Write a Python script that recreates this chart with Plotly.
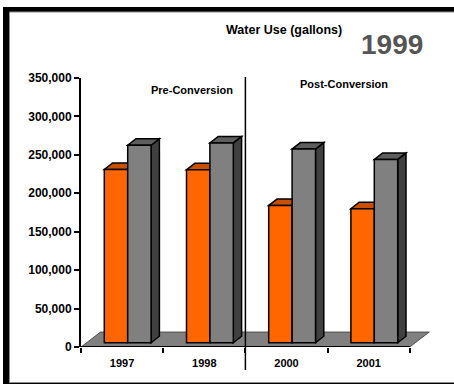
import plotly.graph_objects as go

# --- data -------------------------------------------------------------
years = ["1997", "1998", "2000", "2001"]
orange_vals = [225500, 225000, 178500, 174500]
gray_vals = [257000, 260000, 252000, 238500]
y_ticks = [0, 50000, 100000, 150000, 200000, 250000, 300000, 350000]

# --- geometry (pixels) -------------------------------------------------
W, H = 454, 384
ML, MR, MT, MB = 81, 23, 78, 37
PW, PH = W - ML - MR, H - MT - MB
CAT = 82.2                 # pixels per category
XMIN = -0.5
XMAX = XMIN + PW / CAT
YMAX = 350000
UX = 1.0 / CAT             # data units per pixel (x)
UY = YMAX / PH             # data units per pixel (y)

FLOOR_DX, FLOOR_DY = 19.5, 15.0   # floor depth
BAR_DX, BAR_DY = 8.3, 6.5         # column depth
FX = (FLOOR_DX - BAR_DX) / 2      # columns sit mid-floor
FY = (FLOOR_DY - BAR_DY) / 2
BW = 23.4                          # column width

ORANGE, ORANGE_TOP = "#FF6600", "#C85000"
GRAY, GRAY_TOP, GRAY_SIDE = "#808080", "#5E5E5E", "#404040"
FONT = "Arial, Liberation Sans, sans-serif"


def px(xp):
    return (xp - ML) / PW


def py(yp):
    return (H - MB - yp) / PH


def poly(pts):
    return "M " + " L ".join(f"{x},{y}" for x, y in pts) + " Z"


base = FY * UY
ddx, ddy = BAR_DX * UX, BAR_DY * UY
shapes = []

# card frame: dark band on the upper-left, white card with grey edge
shapes.append(dict(type="rect", xref="paper", yref="paper",
                   x0=px(3), x1=px(470), y0=py(7), y1=py(400),
                   fillcolor="black", line=dict(width=0), layer="below"))
shapes.append(dict(type="rect", xref="paper", yref="paper",
                   x0=px(9.5), x1=px(470), y0=py(12), y1=py(382.5),
                   fillcolor="white", line=dict(color="#8C8C8C", width=1),
                   layer="below"))

# floor
fdx, fdy = FLOOR_DX * UX, FLOOR_DY * UY
shapes.append(dict(type="path", xref="x", yref="y", layer="below",
                   path=poly([(XMIN, 0), (3.5, 0), (3.5 + fdx, fdy), (XMIN + fdx, fdy)]),
                   fillcolor="#808080", line=dict(color="#3A3A3A", width=0.8)))

# column tops and sides
for i, (vo, vg) in enumerate(zip(orange_vals, gray_vals)):
    xl_o = i + (FX - BW) * UX
    xr_o = i + FX * UX
    xl_g = xr_o
    xr_g = xr_o + BW * UX
    to = base + vo
    tg = base + vg
    shapes.append(dict(type="path", xref="x", yref="y", layer="below",
                       path=poly([(xl_o, to), (xr_o, to), (xr_o + ddx, to + ddy), (xl_o + ddx, to + ddy)]),
                       fillcolor=ORANGE_TOP, line=dict(color="black", width=1.5)))
    shapes.append(dict(type="path", xref="x", yref="y", layer="below",
                       path=poly([(xr_g, base), (xr_g, tg), (xr_g + ddx, tg + ddy), (xr_g + ddx, base + ddy)]),
                       fillcolor=GRAY_SIDE, line=dict(color="black", width=1.5)))
    shapes.append(dict(type="path", xref="x", yref="y", layer="below",
                       path=poly([(xl_g, tg), (xr_g, tg), (xr_g + ddx, tg + ddy), (xl_g + ddx, tg + ddy)]),
                       fillcolor=GRAY_TOP, line=dict(color="black", width=1.5)))

# category axis line along the floor front edge
shapes.append(dict(type="line", xref="x", yref="y", x0=XMIN, x1=3.5, y0=0, y1=0,
                   line=dict(color="black", width=2)))
# divider between pre- and post-conversion years
shapes.append(dict(type="line", xref="x", yref="paper", x0=1.5, x1=1.5,
                   y0=py(370), y1=py(77), line=dict(color="black", width=1.5)))

fig = go.Figure()
fig.add_trace(go.Bar(x=list(range(len(years))), y=orange_vals, base=base,
                     offset=(FX - BW) * UX, width=BW * UX,
                     marker=dict(color=ORANGE, line=dict(color="black", width=1.5)),
                     hoverinfo="skip", showlegend=False))
fig.add_trace(go.Bar(x=list(range(len(years))), y=gray_vals, base=base,
                     offset=FX * UX, width=BW * UX,
                     marker=dict(color=GRAY, line=dict(color="black", width=1.5)),
                     hoverinfo="skip", showlegend=False))
# carrier for the category-boundary tick axis
fig.add_trace(go.Scatter(x=[XMIN], y=[0], xaxis="x2", mode="markers",
                         marker=dict(opacity=0), hoverinfo="skip", showlegend=False))

annotations = [
    dict(text="Water Use (gallons)", x=px(284), y=py(30), font=dict(size=12.5)),
    dict(text="1999", x=px(392), y=py(45), font=dict(size=28, color="#555555")),
    dict(text="Pre-Conversion", x=px(192), y=py(90), font=dict(size=11)),
    dict(text="Post-Conversion", x=px(344), y=py(84), font=dict(size=11)),
]
for a in annotations:
    a.update(xref="paper", yref="paper", showarrow=False, xanchor="center", yanchor="middle")
    a["font"].update(family=FONT, weight="bold")
    a["font"].setdefault("color", "black")

fig.update_layout(
    width=W, height=H, autosize=False,
    margin=dict(l=ML, r=MR, t=MT, b=MB, pad=0),
    paper_bgcolor="white", plot_bgcolor="rgba(0,0,0,0)",
    barmode="overlay", showlegend=False,
    font=dict(family=FONT, color="black"),
    shapes=shapes, annotations=annotations,
    xaxis=dict(range=[XMIN, XMAX], tickmode="array", tickvals=list(range(len(years))),
               ticktext=years, ticks="", showline=False, showgrid=False, zeroline=False,
               ticklabelstandoff=8,
               tickfont=dict(family=FONT, size=11, color="black", weight="bold")),
    xaxis2=dict(range=[XMIN, XMAX], overlaying="x", anchor="y", side="bottom",
                tickmode="array", tickvals=[XMIN + k for k in range(5)],
                showticklabels=False, ticks="outside", ticklen=5, tickwidth=2,
                tickcolor="black", showline=False, showgrid=False, zeroline=False),
    yaxis=dict(range=[0, YMAX], tickmode="array", tickvals=y_ticks, tickformat=",",
               ticks="outside", ticklen=5, tickwidth=2, tickcolor="black",
               showline=True, linecolor="black", linewidth=2, showgrid=False,
               zeroline=False,
               tickfont=dict(family=FONT, size=12, color="black", weight="bold")),
)

fig.write_html("out.html")
